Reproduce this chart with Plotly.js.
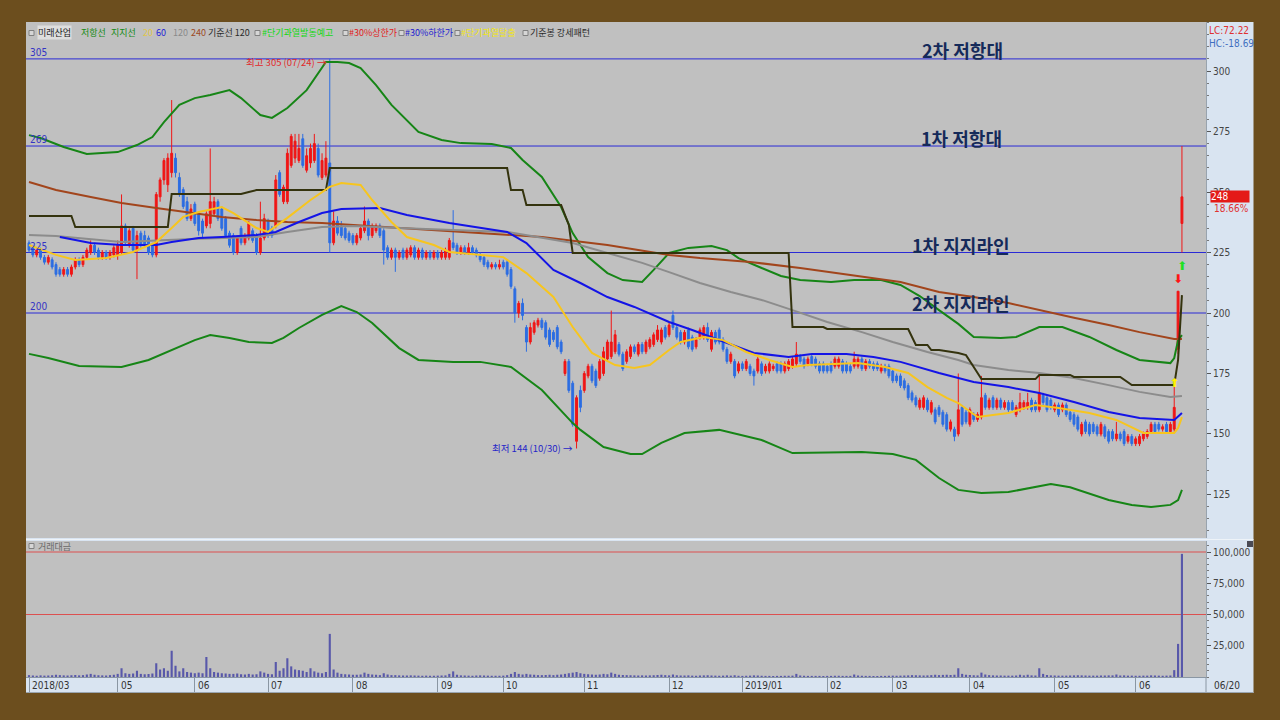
<!DOCTYPE html>
<html><head><meta charset="utf-8">
<script src="https://cdn.plot.ly/plotly-3.0.1.min.js"></script>
<style>html,body{margin:0;padding:0;background:#6C4E1E;}#chart{width:1280px;height:720px;}</style>
</head><body><div id="chart"></div>
<script>
// ---- DATA (trading-day index 0 = 2018/03/29 ... 299 = 2019/06/20) ----
const openP = [
229,227,224,226,223,221,222,220,218,216,
218,216,219,222,220,223,225,228,226,223,
225,223,224,224,225,236,228,235,226,233,
232,231,228,224,248,255,253,258,264,256,
251,246,239,245,241,238,236,237,241,246,
243,239,233,232,225,235,229,231,234,232,
225,231,238,235,236,258,246,246,261,264,
263,272,259,262,263,268,256,257,262,229,
238,236,235,233,232,229,231,234,238,232,
234,236,234,227,223,226,223,226,223,224,
227,223,226,223,225,223,225,223,223,223,
229,228,225,227,225,227,226,224,223,221,
219,220,219,221,221,218,210,200,204,194,
188,192,195,197,196,193,192,194,188,175,
180,171,147,168,168,174,178,176,173,175,
181,182,184,187,183,180,182,186,183,187,
184,186,187,189,188,194,191,199,194,192,
188,193,190,186,190,190,194,185,192,193,
189,185,180,180,176,179,177,178,176,176,
179,176,176,177,179,179,176,177,178,179,
182,181,179,182,181,179,179,178,179,178,
178,180,179,178,178,178,181,177,180,179,
179,176,178,178,176,174,174,172,170,167,
165,161,161,164,159,160,161,159,158,152,
152,150,161,159,154,158,156,157,166,161,
165,161,164,161,163,163,158,160,161,161,
164,163,160,166,165,164,160,162,160,162,
159,158,157,150,155,154,154,153,150,153,
151,151,148,150,151,147,149,146,146,148,
149,151,154,154,152,154,151,152,185,237];
const highP = [
230,228,227,227,224,224,223,221,219,219,
219,220,223,223,224,227,230,229,227,226,
226,226,228,230,249,237,235,236,234,234,
234,232,229,250,256,264,266,288,266,258,
252,248,245,246,242,239,242,268,248,247,
244,240,234,233,232,236,233,238,235,233,
246,241,239,236,257,259,253,268,274,274,
274,274,268,270,274,270,266,271,305,242,
240,238,236,234,233,233,236,244,239,237,
237,237,235,228,227,227,226,227,227,228,
228,227,227,226,226,226,226,226,227,231,
242.5,229,228,228,229,228,227,225,224,222,
221,221,222,222,222,219,211,205,206,195,
196,197,198,198,197,194,193,195,189,181,
181,172,166,170,176,179,179,177,181,186,
189,201,193,188,184,185,187,187,188,188,
189,190,192,195,194,195,196,201,195,193,
193,194,191,190,194,195,196,193,193,194,
190,186,184,181,180,180,181,179,177,182,
180,179,180,179,180,180,180,181,182,188,
183,182,182,183,182,180,180,179,180,182,
182,181,180,179,184,182,182,181,181,180,
180,179,179,179,177,175,175,173,171,168,
166,165,166,165,164,161,162,160,159,156,
153,175,162,160,161,159,159,174,167,165,
166,165,165,164,164,164,162,167,164,167,
165,164,175,167,166,165,163,163,163,163,
160,159,158,155,156,155,155,154,155,154,
152,152,155,151,152,150,150,149,150,151,
152,155,155,155,154,155,155,170,209,269];
const lowP = [
225,223,223,222,220,220,218,215,215,215,
215,215,218,219,219,222,224,224,222,222,
222,222,223,222,224,228,227,225,214,227,
227,224,223,223,246,253,250,256,256,248,
243,238,238,236,232,231,235,235,240,238,
234,231,227,224,224,228,228,230,229,224,
224,230,231,231,235,248,245,245,260,262,
262,260,258,260,262,256,255,256,225,228,
232,231,230,229,228,228,230,233,230,231,
233,231,220,222,222,217,222,222,222,223,
222,222,222,222,222,222,222,222,222,222,
226,224,224,224,224,224,223,221,219,218,
218,218,218,218,215,210,196,198,197,184,
187,191,194,193,189,186,188,185,183,174,
167,153,144,159,167,173,171,169,172,174,
180,181,183,182,176,179,181,183,182,183,
183,185,186,188,187,189,190,193,189,187,
187,185,184,185,189,189,188,184,187,187,
184,179,179,173,175,176,176,174,170,175,
174,175,175,176,175,175,175,176,177,178,
179,177,178,178,177,175,175,175,175,177,
177,175,175,175,177,177,176,176,177,176,
176,175,175,173,171,171,169,168,164,163,
161,160,160,159,158,154,157,153,151,151,
147,149,153,154,153,155,155,156,160,160,
160,160,160,160,159,159,157,159,160,160,
159,159,159,162,159,160,159,157,159,157,
155,153,151,149,150,149,150,149,149,148,
146,147,147,147,145,146,145,145,145,147,
148,150,150,151,151,150,150,151,183,225];
const closeP = [
226,224,226,223,221,223,219,216,216,218,
216,219,222,220,223,226,228,225,223,225,
223,225,227,228,236,229,234,226,232,228,
228,225,224,249,255,263,264,266,258,249,
244,239,243,237,234,233,241,246,246,239,
235,232,228,225,231,229,232,237,230,225,
231,239,232,232,255,249,252,266,273,271,
268,261,265,268,270,257,263,264,229,238,
233,232,231,230,229,232,235,238,232,236,
236,232,226,223,226,223,225,223,226,227,
223,226,223,225,223,225,223,225,226,230,
227,225,227,225,227,225,224,222,220,219,
220,219,220,219,216,211,200,204,199,188,
194,196,197,194,190,187,189,186,184,180,
168,154,165,161,175,178,172,170,180,184,
188,188,191,183,177,184,186,184,187,184,
188,189,191,193,193,190,195,194,190,188,
192,186,185,189,193,194,189,192,188,188,
185,180,183,174,179,177,180,175,174,181,
175,178,179,178,176,176,179,180,181,183,
180,178,181,179,178,176,176,176,176,181,
181,176,176,176,181,181,177,180,178,177,
177,178,176,174,172,172,170,169,165,164,
162,164,165,160,163,155,158,154,152,155,
149,160,154,155,160,156,158,165,161,164,
161,164,161,163,160,160,161,163,163,163,
160,160,167,163,160,161,162,158,162,158,
156,154,152,154,151,150,151,150,154,149,
147,148,150,148,146,149,146,148,149,150,
151,154,151,152,153,151,154,161,209,248];
const tradeValue = [
1500,1200,1000,1300,1100,1200,1400,1800,1500,1300,
1200,1400,1600,1300,1500,2000,2500,1800,1400,1300,
1200,1500,1800,2500,7000,3000,2500,2800,5000,2500,
2200,2400,2800,11000,6000,7000,5000,21000,9000,4500,
7000,4000,3500,3000,3500,3000,16000,7000,4000,3500,
3000,2800,2500,2500,2800,2200,2000,2500,2000,2200,
4500,3500,2500,2200,12000,5000,7000,15000,8500,6000,
5500,5000,4000,7000,4500,3500,3000,4000,34500,6000,
3500,2500,2200,2000,1800,1800,2000,3500,2500,2000,
1800,1500,3000,2000,1500,1500,1300,1200,1200,1300,
1200,1100,1000,1100,1000,1000,1100,1200,1300,2500,
4500,1800,1300,1200,1100,1000,1200,1300,1200,1100,
1000,1000,1000,1100,1500,2500,4000,2500,2000,2500,
2000,1800,1500,1500,1600,1800,1500,1800,2000,2500,
3000,3500,4000,3000,2500,2200,2000,1800,2000,2500,
2200,3500,2500,1800,1600,1500,1400,1300,1200,1300,
1200,1300,1400,1600,1800,1500,1300,2000,1400,1200,
1200,1300,1100,1000,1200,1300,1400,1200,1100,1000,
1100,1300,1100,1400,1000,900,1000,1100,1300,1200,
1000,900,900,800,900,900,1000,1000,1100,2500,
1200,1000,900,900,900,900,800,900,900,1000,
1000,900,900,900,2000,1200,1000,900,900,800,
800,900,900,1000,1100,1000,1100,1200,1300,1500,
1400,1300,1200,1300,1500,1800,1500,1700,1800,1600,
1800,7000,2500,1800,1600,1400,1300,3500,2000,1500,
1300,1200,1200,1100,1100,1100,1200,1800,1300,1800,
1300,1200,7000,2500,1600,1300,1200,1100,1100,1100,
1200,1300,1400,1300,1200,1100,1100,1100,1200,1200,
1300,1300,2000,1200,1300,1100,1100,1000,1000,1100,
1100,1300,1200,1100,1000,1100,1200,5500,26500,98500];

// indicator lines, read at selected trading-day indices
const resistIdx = [0,3,9,15,23,28,32,35,39,43,47,52,55,60,63,67,72,77,80,83,86,90,94,98,101,107,112,120,125,128,133,138,141,145,150,154,159,162,166,171,177,181,184,190,195,200,208,214,221,226,231,236,241,245,252,256,262,268,275,282,288,296,297,298,299];
const resistVal = [273.5,272.3,268.6,265.7,266.5,269.4,272.7,278.9,286,288.8,290.1,292.1,288.8,281.8,280.6,284.7,292.1,303.7,303.7,303.3,301.2,294.2,286,279.8,274.8,271.5,270.2,269.8,268.2,263.2,256.2,243.8,233,223.1,216.5,213.6,212.8,217.8,224.8,226.9,227.7,226,222.7,218.6,215.3,213.6,212.8,213.6,213.6,211.6,207,201.2,195.5,190.1,189.7,190.1,194.2,194.2,190.1,184.7,180.6,179.3,181.4,188.8,190.9];
const supportIdx = [0,5,13,24,31,38,43,47,52,57,63,66,70,76,81,85,89,96,101,110,117,125,133,141,143,149,156,159,164,170,179,190,198,216,224,230,236,241,247,254,260,265,270,275,280,286,291,296,298,299];
const supportVal = [183.1,181.4,178.1,177.7,180.6,185.5,188.8,190.9,189.7,188,187.6,189.7,193.8,199.2,202.9,200.4,195.9,185.5,180.6,179.8,179.8,177.7,168.2,154.5,151.7,144.6,141.7,141.7,146.3,150.4,151.7,147.5,142.1,142.6,141.7,139.3,131.8,126.9,125.6,126,127.7,129.3,128,125.2,122.7,120.7,119.8,120.7,122.7,126.9];
const ma20Idx = [0,7,12,20,27,33,37,40,44,50,53,59,62,67,73,78,81,86,89,94,98,105,109,117,123,129,136,141,146,152,157,161,166,169,175,180,186,192,198,202,215,222,228,233,238,241,246,254,261,267,275,282,289,297,298,299];
const ma20Val = [228.1,224,221.9,222.7,225.2,229.3,235.1,239.7,241.7,243.8,241.3,235.1,233.5,239.3,246.7,252.1,253.7,252.9,246.7,237.6,231.4,228.1,225.2,224,223.1,216.5,206.6,194.2,183.5,178.5,177.3,178.5,184.7,188,190.1,188.8,183.9,180.6,177.7,178.5,179.3,177.7,175.2,169.4,164.9,162.8,157,158.7,162,160.7,158.7,155.8,150.4,150.4,152.5,157];
const ma60Idx = [8,16,24,33,37,44,50,59,64,70,76,81,91,98,109,124,129,136,143,150,157,166,172,181,188,197,203,212,219,226,233,236,245,254,262,271,280,288,297,299];
const ma60Val = [231.4,228.9,228.1,228.1,229.3,231,231.4,232.2,233.5,237.6,241.3,243,243.4,240.5,237.2,233.5,228.9,217.8,212.4,206.6,202.5,196.3,193,187.6,183.5,181.8,183.1,183.1,181.8,179.8,176.4,175.2,171.5,169.4,166.9,163.2,159.1,156.6,155.8,158.7];
const ma120Idx = [0,7,24,42,59,67,76,84,96,109,124,141,150,159,166,174,182,190,198,207,216,224,233,241,245,254,262,271,280,288,296,299];
const ma120Val = [232.2,231.8,229.3,230.6,231.4,233.5,235.5,236,235.1,234.3,233.5,228.9,224.8,220.7,216.9,212.4,208.7,205.4,201.2,196.3,192.1,188,183.9,180.6,178.5,176.4,175.2,173.1,170.2,167.4,165.3,165.7];
const ma240Idx = [0,7,16,24,33,42,50,59,67,76,84,98,115,133,150,166,174,187,200,213,226,236,245,254,262,271,280,288,297,299];
const ma240Val = [254.1,250.8,247.9,245.5,243.4,241.3,239.7,238.4,237.6,237.2,236.4,235.1,233.5,231.4,228.1,224,222.7,221.1,218.6,215.7,212.8,208.7,206.6,204.1,201.2,198,195,192.1,189.3,189.3];
const baseIdx = [0,11,12,36,37,55,57,59,77,78,124,125,128,129,138,140,141,197,198,206,207,228,230,233,234,236,241,243,245,247,261,262,270,271,283,286,297,298,299];
const baseVal = [240.1,240.1,235.5,235.5,249.2,249.2,250,250.8,250.8,259.9,259.9,250.8,250.8,244.6,244.6,236.4,224.8,224.8,194.2,194.2,193.4,193.4,186.8,186.8,184.7,184.7,183.5,182.6,177.7,172.7,172.7,174.4,174.4,173.6,173.6,170.2,170.2,180.6,207.4];

// signals
const sigIdx = [297, 298, 299];
const sigPrice = [170.7, 213.6, 219];
const sigText = ['⬆', '⬇', '⬆'];
const sigColor = ['#FFF200', '#FF1414', '#22E022'];

// reference levels and labels
const hLevels = [305, 269, 225, 200];
const hLevelLabels = ['305', '269', '225', '200'];
const volLevels = [100000, 50000];
const priceTicks = [125, 150, 175, 200, 225, 250, 275, 300];
const volTickVals = [25000, 50000, 75000, 100000];
const volTickText = ['25,000', '50,000', '75,000', '100,000'];
const monthIdx = [0, 23, 43, 62, 84, 106, 123, 144, 166, 185, 207, 224, 244, 266, 287];
const monthLabels = ['2018/03', '05', '06', '07', '08', '09', '10', '11', '12', '2019/01', '02', '03', '04', '05', '06'];
const lastDate = '06/20';
const highIdx = 78, highVal = 305, highText = '최고 305 (07/24) →';
const lowIdx = 142, lowVal = 144, lowText = '최저 144 (10/30) →';
const lastClose = '248', lastChange = '18.66%';
const lcText = 'LC:72.22', hcText = 'HC:-18.69';
const zoneLabels = ['2차 저항대', '1차 저항대', '1차 지지라인', '2차 지지라인'];
const legendTexts = ['미래산업', '저항선', '지지선', '20', '60', '120', '240', '기준선 120',
  '#단기과열발동예고', '#30%상한가', '#30%하한가', '#단기과열탈출', '기준봉 강세패턴'];

// ---- DRAW ----
const idx = closeP.map((_, i) => i);
const KR = 'Noto Sans CJK KR, sans-serif';
const NAR = 'Liberation Sans Narrow, DejaVu Sans Condensed, Arial Narrow, sans-serif';
const px2x = px => (px - 26) / 1180;
const py2y = py => (677 - py) / 655;
const XR = [-0.778, 305.24];

function line(xs, ys, color, w) {
  return {type: 'scatter', mode: 'lines', x: xs, y: ys, xaxis: 'x', yaxis: 'y',
    line: {color: color, width: w}, hoverinfo: 'skip', showlegend: false};
}
const traces = [
  line(resistIdx, resistVal, '#168516', 2),
  line(supportIdx, supportVal, '#168516', 2),
  line(ma240Idx, ma240Val, '#A2451C', 2),
  line(ma120Idx, ma120Val, '#8C8C8C', 2),
  line(baseIdx, baseVal, '#34330E', 2),
  line(ma60Idx, ma60Val, '#1414E6', 2),
  line(ma20Idx, ma20Val, '#F7C51E', 2),
  {type: 'candlestick', x: idx, open: openP, high: highP, low: lowP, close: closeP,
    xaxis: 'x', yaxis: 'y', whiskerwidth: 0, showlegend: false, hoverinfo: 'skip',
    increasing: {line: {color: '#F01616', width: 1}, fillcolor: '#F01616'},
    decreasing: {line: {color: '#2C6DE2', width: 1}, fillcolor: '#2C6DE2'}},
  {type: 'scatter', mode: 'text', x: sigIdx, y: sigPrice, text: sigText, xaxis: 'x', yaxis: 'y',
    textfont: {family: 'DejaVu Sans', size: 12, color: sigColor}, hoverinfo: 'skip', showlegend: false},
  {type: 'bar', x: idx, y: tradeValue, xaxis: 'x', yaxis: 'y2', marker: {color: '#5858AA', line: {width: 0}},
    hoverinfo: 'skip', showlegend: false}
];

const shapes = [];
hLevels.forEach(v => shapes.push({type: 'line', xref: 'x', yref: 'y', x0: XR[0], x1: XR[1], y0: v, y1: v,
  line: {color: '#2A2AD6', width: 1}, layer: 'below'}));
volLevels.forEach(v => shapes.push({type: 'line', xref: 'x', yref: 'y2', x0: XR[0], x1: XR[1], y0: v, y1: v,
  line: {color: '#DC5050', width: 1}, layer: 'below'}));
// brown frame
const BR = '#6C4E1E';
shapes.push({type: 'rect', xref: 'paper', yref: 'paper', x0: -0.1, x1: px2x(26), y0: -0.2, y1: 1.2, fillcolor: BR, line: {width: 0}, layer: 'above'});
shapes.push({type: 'rect', xref: 'paper', yref: 'paper', x0: px2x(1253.5), x1: 1.2, y0: -0.2, y1: 1.2, fillcolor: BR, line: {width: 0}, layer: 'above'});
shapes.push({type: 'rect', xref: 'paper', yref: 'paper', x0: -0.1, x1: 1.2, y0: py2y(22), y1: 1.2, fillcolor: BR, line: {width: 0}, layer: 'above'});
shapes.push({type: 'rect', xref: 'paper', yref: 'paper', x0: -0.1, x1: 1.2, y0: -0.2, y1: py2y(693), fillcolor: BR, line: {width: 0}, layer: 'above'});
// band separators
shapes.push({type: 'line', xref: 'paper', yref: 'paper', x0: 1, x1: 1, y0: py2y(677), y1: py2y(693), line: {color: '#8A96A3', width: 1}});
shapes.push({type: 'line', xref: 'paper', yref: 'paper', x0: 0, x1: px2x(1253.5), y0: py2y(692.5), y1: py2y(692.5), line: {color: '#9AA5B0', width: 1}});
shapes.push({type: 'line', xref: 'paper', yref: 'paper', x0: 0, x1: px2x(1253.5), y0: py2y(539.5), y1: py2y(539.5), line: {color: '#EEF3F8', width: 1}});
// small panel icon
shapes.push({type: 'rect', xref: 'paper', yref: 'paper', x0: px2x(1247), x1: px2x(1253), y0: py2y(547), y1: py2y(541), fillcolor: '#4A4A55', line: {width: 0}});
// legend square icons
const iconPos = [[29, 33], [255, 33], [343, 33], [399, 33], [455, 33], [523, 33], [29, 546]];
iconPos.forEach(([px, py]) => shapes.push({type: 'rect', xref: 'paper', yref: 'paper',
  x0: px2x(px), x1: px2x(px + 5), y0: py2y(py + 2.5), y1: py2y(py - 2.5),
  fillcolor: '#D6D6D6', line: {color: '#808080', width: 1}, layer: 'above'}));

const ann = [];
const legendColors = ['#1A1A1A', '#138A13', '#138A13', '#E2C64A', '#1C1CD8', '#8A8A8A', '#9C4A22', '#2A2A2A',
  '#12D812', '#E01A1A', '#1A1AD0', '#F2E614', '#2A2A2A'];
const legendPx = [37, 80, 110, 142, 155, 172, 190, 207, 261, 348, 404, 460, 529];
legendTexts.forEach((t, k) => ann.push({xref: 'paper', yref: 'paper', x: px2x(legendPx[k]), y: py2y(33),
  xanchor: 'left', yanchor: 'middle', text: t, showarrow: false, font: {family: KR, size: 9, color: legendColors[k]},
  bgcolor: k === 0 ? '#DEDEDE' : 'rgba(0,0,0,0)', borderpad: 0}));
hLevels.forEach((v, k) => ann.push({xref: 'paper', yref: 'y', x: px2x(28), y: v, xanchor: 'left', yanchor: 'bottom',
  text: hLevelLabels[k], showarrow: false, font: {family: NAR, size: 10, color: '#3434C4'}, yshift: -1}));
const zonePos = [[962, 50], [961, 138], [961, 245], [961, 303]];
zoneLabels.forEach((t, k) => ann.push({xref: 'paper', yref: 'paper', x: px2x(zonePos[k][0]), y: py2y(zonePos[k][1]),
  xanchor: 'center', yanchor: 'middle', text: '<b>' + t + '</b>', showarrow: false,
  font: {family: KR, size: 18, color: '#152A5A'}}));
ann.push({xref: 'x', yref: 'y', x: highIdx, y: highVal, xanchor: 'right', yanchor: 'middle', xshift: -1, yshift: -3,
  text: highText, showarrow: false, font: {family: KR, size: 9.5, color: '#E0282A'}});
ann.push({xref: 'x', yref: 'y', x: lowIdx, y: lowVal, xanchor: 'right', yanchor: 'middle', xshift: -2, yshift: 1,
  text: lowText, showarrow: false, font: {family: KR, size: 9.5, color: '#2626C8'}});
monthIdx.forEach((m, k) => ann.push({xref: 'x', yref: 'paper', x: m, y: py2y(685.5), xanchor: 'left', yanchor: 'middle',
  xshift: 1, text: monthLabels[k], showarrow: false, font: {family: NAR, size: 10, color: '#333333'}}));
ann.push({xref: 'paper', yref: 'paper', x: px2x(1212), y: py2y(685.5), xanchor: 'left', yanchor: 'middle',
  text: lastDate, showarrow: false, font: {family: NAR, size: 10, color: '#333333'}});
ann.push({xref: 'paper', yref: 'paper', x: px2x(1207), y: py2y(30), xanchor: 'left', yanchor: 'middle',
  text: lcText, showarrow: false, font: {family: NAR, size: 10, color: '#E03030'}});
ann.push({xref: 'paper', yref: 'paper', x: px2x(1207), y: py2y(43), xanchor: 'left', yanchor: 'middle',
  text: hcText, showarrow: false, font: {family: NAR, size: 10, color: '#3F6FC0'}});
ann.push({xref: 'paper', yref: 'y', x: px2x(1210), y: 248, xanchor: 'left', yanchor: 'middle',
  text: lastClose, showarrow: false, width: 38, align: 'left', height: 11, borderpad: 0, bgcolor: '#E41A17',
  font: {family: NAR, size: 10, color: '#FFFFFF'}});
ann.push({xref: 'paper', yref: 'paper', x: px2x(1212), y: py2y(208), xanchor: 'left', yanchor: 'middle',
  text: lastChange, showarrow: false, font: {family: NAR, size: 10, color: '#E03030'}});
ann.push({xref: 'paper', yref: 'paper', x: px2x(36), y: py2y(546), xanchor: 'left', yanchor: 'middle',
  text: '거래대금', showarrow: false, font: {family: KR, size: 9, color: '#6A6A6A'}});

const tickFont = {family: NAR, size: 10, color: '#444444'};
const layout = {
  width: 1280, height: 720,
  margin: {l: 26, r: 74, t: 22, b: 43},
  paper_bgcolor: '#D9E4F1', plot_bgcolor: '#C0C0C0',
  showlegend: false, bargap: 0.45, dragmode: false,
  xaxis: {domain: [0, 1], range: XR, anchor: 'y2', showgrid: false, zeroline: false, showticklabels: false,
    ticks: 'outside', tickvals: monthIdx, ticklen: 15, tickcolor: '#8A96A3', tickwidth: 1,
    showline: true, linecolor: '#8A96A3', linewidth: 1, rangeslider: {visible: false}, fixedrange: true},
  yaxis: {domain: [py2y(538), 1], range: [107.02, 320.25], side: 'right', anchor: 'x',
    tickvals: priceTicks, ticks: 'outside', ticklen: 4, tickcolor: '#555555',
    tickfont: tickFont, showgrid: false, zeroline: false,
    showline: true, linecolor: '#98A3AE', linewidth: 1, fixedrange: true,
    minor: {dtick: 5, tick0: 0, ticks: 'outside', ticklen: 2, tickcolor: '#777777', showgrid: false}},
  yaxis2: {domain: [0, py2y(541)], range: [0, 108800], side: 'right', anchor: 'x',
    tickvals: volTickVals, ticktext: volTickText, ticks: 'outside', ticklen: 4, tickcolor: '#555555',
    tickfont: tickFont, showgrid: false, zeroline: false,
    showline: true, linecolor: '#98A3AE', linewidth: 1, fixedrange: true,
    minor: {dtick: 5000, tick0: 0, ticks: 'outside', ticklen: 2, tickcolor: '#777777', showgrid: false}},
  shapes: shapes, annotations: ann
};
Plotly.newPlot('chart', traces, layout, {displayModeBar: false, staticPlot: true});
</script></body></html>
